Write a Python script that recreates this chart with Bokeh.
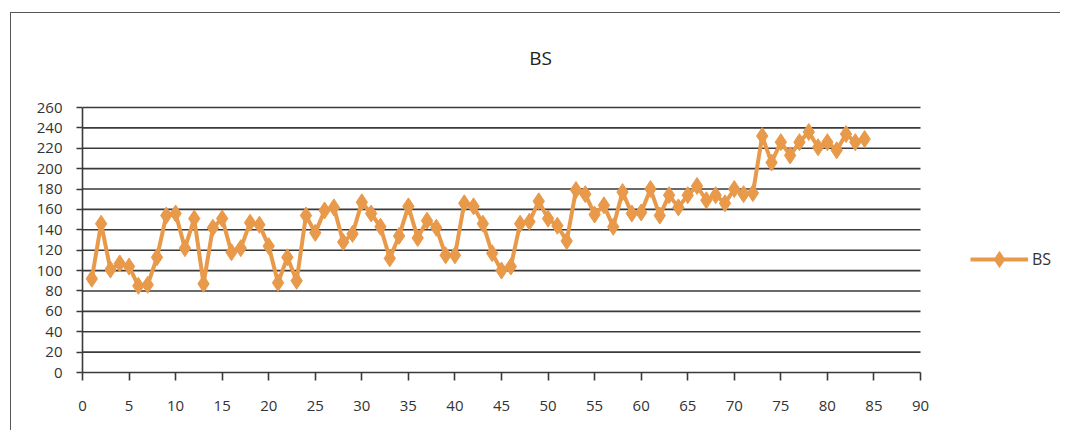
from bokeh.plotting import figure
from bokeh.models import Range1d, Legend, LegendItem, FixedTicker, Label
from bokeh.embed import file_html
from bokeh.resources import INLINE

series_name = "BS"
x_values = list(range(1, 85))
bs_values = [92, 146, 101, 107, 104, 85, 86, 113, 154, 156,
             122, 151, 87, 142, 151, 118, 122, 147, 145, 124,
             88, 113, 90, 154, 137, 159, 162, 128, 136, 167,
             156, 143, 112, 134, 163, 132, 149, 142, 115, 115,
             166, 163, 146, 117, 100, 104, 146, 148, 168, 151,
             144, 129, 179, 175, 155, 164, 143, 177, 156, 157,
             180, 154, 174, 162, 174, 183, 169, 174, 166, 180,
             175, 176, 232, 206, 226, 213, 226, 236, 221, 226,
             218, 234, 226, 229]
x_ticks = list(range(0, 95, 5))
y_ticks = list(range(0, 280, 20))
X_MAX, Y_MAX = 90, 260

ORANGE = "#E8994A"
GRID = "#3a3a3a"
FONT = "Open Sans"

# layout (pixels)
W, H = 1050, 418
LEFT, BOTTOM = 71, 59
PLOT_W, PLOT_H = 838, 265          # pixel size of the 0..90 x 0..260 area
frame_w, frame_h = W - LEFT, H - BOTTOM
x_end = X_MAX * frame_w / PLOT_W
y_end = Y_MAX * frame_h / PLOT_H

p = figure(width=W, height=H, output_backend="svg", toolbar_location=None,
           x_range=Range1d(0, x_end), y_range=Range1d(0, y_end),
           min_border_left=LEFT, min_border_right=0, min_border_top=0,
           min_border_bottom=BOTTOM)
p.styles = {"border-left": "1px solid #555", "border-top": "1px solid #555",
            "margin-left": "10px", "margin-top": "12px"}
p.outline_line_color = None
p.background_fill_color = "white"

# grid: horizontal lines only across the 0..90 span
p.xgrid.grid_line_color = None
p.ygrid.grid_line_color = None
p.segment(x0=[0] * len(y_ticks[1:]), x1=[X_MAX] * len(y_ticks[1:]),
          y0=y_ticks[1:], y1=y_ticks[1:], line_color=GRID, line_width=1.6)

# axes
p.xaxis.ticker = FixedTicker(ticks=x_ticks)
p.yaxis.ticker = FixedTicker(ticks=y_ticks)
p.xaxis.bounds = (0, X_MAX)
p.yaxis.bounds = (0, Y_MAX)
for ax in (p.xaxis[0], p.yaxis[0]):
    ax.axis_line_color = GRID
    ax.axis_line_width = 1.6
    ax.major_tick_line_color = GRID
    ax.major_tick_line_width = 1.6
    ax.minor_tick_line_color = None
    ax.major_tick_in = 0
    ax.major_label_text_font = FONT
    ax.major_label_text_font_size = "15px"
    ax.major_label_text_color = "#333333"
p.xaxis.major_tick_out = 8
p.xaxis.major_label_standoff = 20
p.yaxis.major_tick_out = 6
p.yaxis.major_label_standoff = 14

# series
ln = p.line(x_values, bs_values, line_color=ORANGE, line_width=4)
mk = p.scatter(x_values, bs_values, marker="diamond", size=17,
               fill_color=ORANGE, line_color=ORANGE)

legend = Legend(items=[LegendItem(label=series_name, renderers=[ln, mk])],
                location=(888, 93), glyph_width=58, glyph_height=40,
                label_text_font=FONT, label_text_font_size="16px",
                label_text_color="#333333", border_line_color=None,
                background_fill_alpha=0, padding=0, margin=0, label_standoff=4)
p.add_layout(legend)

title = Label(x=458, y=315, x_units="screen", y_units="screen", text=series_name,
              text_font=FONT, text_font_size="19px", text_color="#222222",
              text_align="center", text_baseline="middle")
p.add_layout(title)

open("out.html", "w").write(file_html(p, INLINE))
